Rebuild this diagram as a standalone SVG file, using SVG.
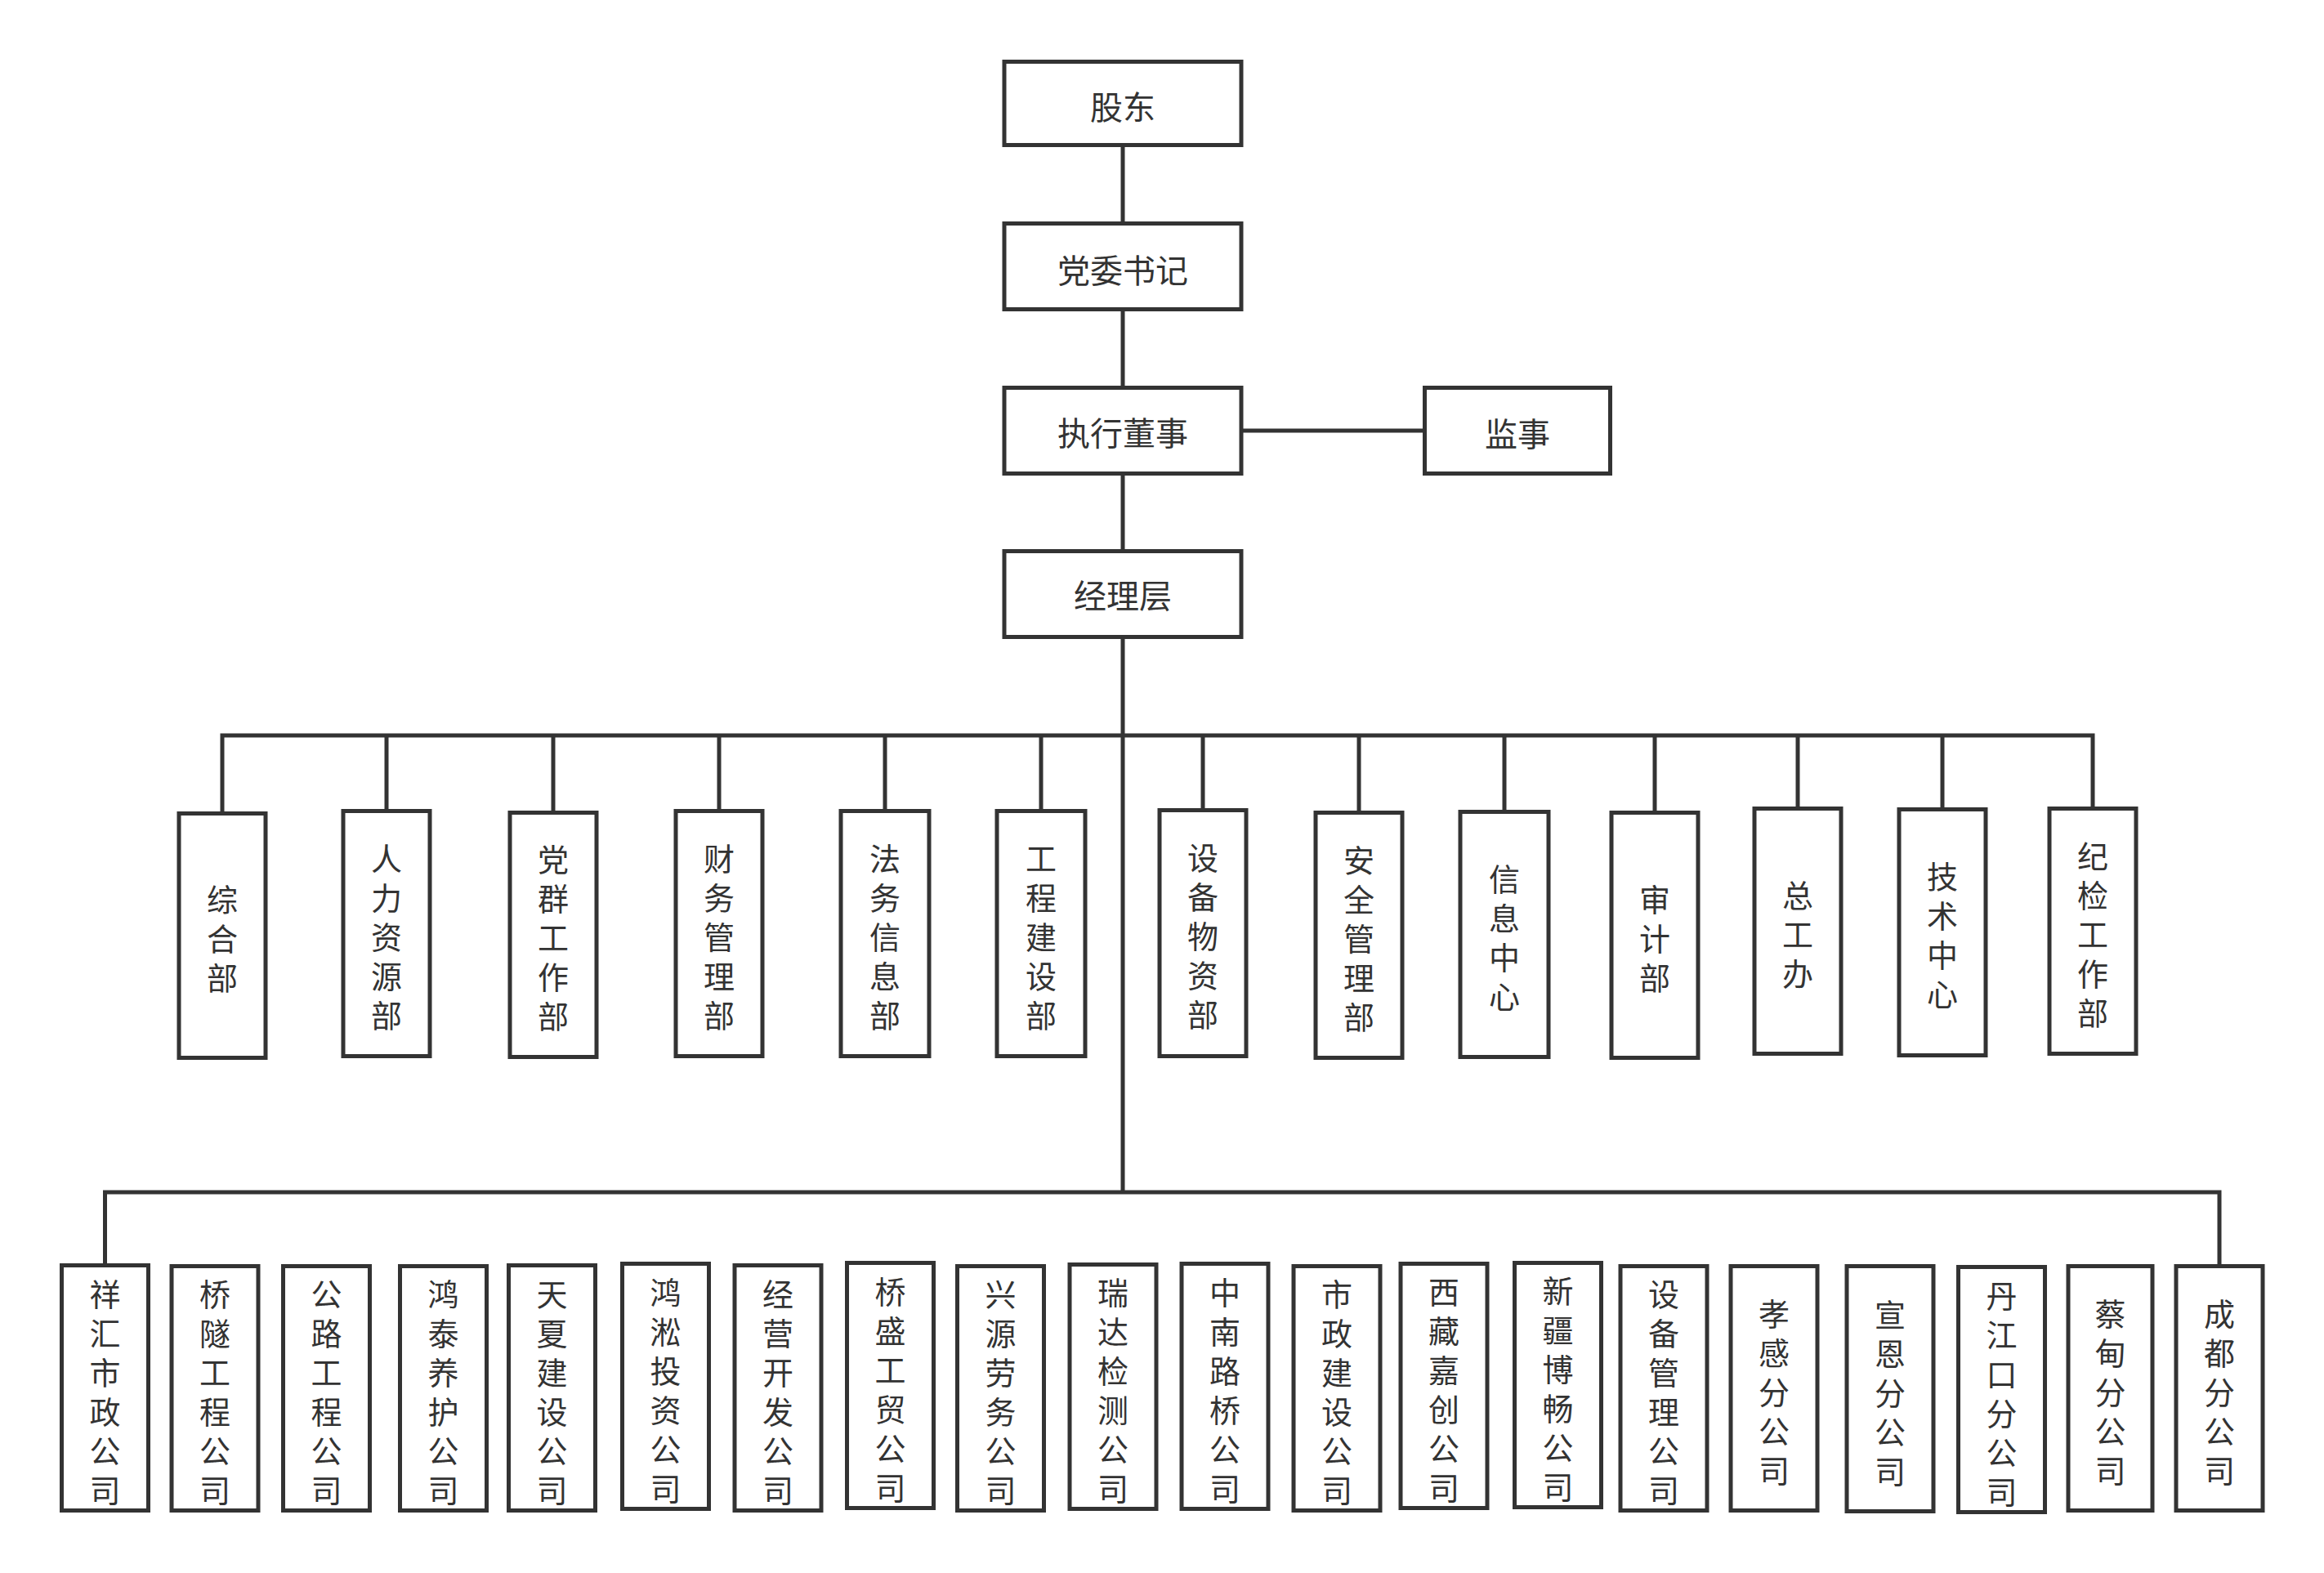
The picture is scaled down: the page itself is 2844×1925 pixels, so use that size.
<svg xmlns="http://www.w3.org/2000/svg" width="2844" height="1925" viewBox="0 0 2844 1925">
<style>
.bg{fill:#ffffff}
.box{fill:#ffffff;stroke:#333333;stroke-width:5}
.ln{fill:none;stroke:#333333;stroke-width:5}
.t{font-family:"Noto Sans CJK SC","Noto Sans",sans-serif;font-size:40px;fill:#333333;text-anchor:middle}
.v{font-family:"Noto Sans CJK SC","Noto Sans",sans-serif;font-size:38px;fill:#333333;text-anchor:middle;writing-mode:vertical-rl;text-orientation:upright;letter-spacing:10px}
</style>
<rect class="bg" x="0" y="0" width="2844" height="1925"/>
<g id="connectors">
<line class="ln" x1="1374" y1="177" x2="1374" y2="274"/>
<line class="ln" x1="1374" y1="378" x2="1374" y2="475"/>
<line class="ln" x1="1374" y1="579" x2="1374" y2="675"/>
<line class="ln" x1="1518" y1="527" x2="1744" y2="527"/>
<line class="ln" x1="1374" y1="779" x2="1374" y2="1459"/>
<polyline class="ln" points="272,996 272,900 2561,900 2561,990"/>
<line class="ln" x1="473" y1="900" x2="473" y2="993"/>
<line class="ln" x1="677" y1="900" x2="677" y2="995"/>
<line class="ln" x1="880" y1="900" x2="880" y2="993"/>
<line class="ln" x1="1083" y1="900" x2="1083" y2="993"/>
<line class="ln" x1="1274" y1="900" x2="1274" y2="993"/>
<line class="ln" x1="1472" y1="900" x2="1472" y2="992"/>
<line class="ln" x1="1663" y1="900" x2="1663" y2="995"/>
<line class="ln" x1="1841" y1="900" x2="1841" y2="994"/>
<line class="ln" x1="2025" y1="900" x2="2025" y2="995"/>
<line class="ln" x1="2200" y1="900" x2="2200" y2="990"/>
<line class="ln" x1="2377" y1="900" x2="2377" y2="991"/>
<polyline class="ln" points="128.5,1549 128.5,1459 2716,1459 2716,1550"/>
</g>
<g id="n-gudong"><rect class="box" x="1229" y="75.5" width="290" height="102"/><text class="t" x="1374" y="146">股东</text></g>
<g id="n-dangwei"><rect class="box" x="1229" y="273.5" width="290" height="105"/><text class="t" x="1374" y="346">党委书记</text></g>
<g id="n-zhixing"><rect class="box" x="1229" y="474.5" width="290" height="105"/><text class="t" x="1374" y="545">执行董事</text></g>
<g id="n-jianshi"><rect class="box" x="1743.5" y="474.5" width="227" height="105"/><text class="t" x="1857" y="546">监事</text></g>
<g id="n-jingli"><rect class="box" x="1229" y="674.5" width="290" height="105"/><text class="t" x="1374" y="744">经理层</text></g>

<g id="d-zonghe"><rect class="box" x="219" y="995.5" width="106" height="299"/><text class="v" x="272" y="1154">综合部</text></g>
<g id="d-renli"><rect class="box" x="420" y="992.5" width="106" height="300"/><text class="v" x="473" y="1151.5">人力资源部</text></g>
<g id="d-dangqun"><rect class="box" x="624" y="994.5" width="106" height="299"/><text class="v" x="677" y="1153">党群工作部</text></g>
<g id="d-caiwu"><rect class="box" x="827" y="992.5" width="106" height="300"/><text class="v" x="880" y="1151.5">财务管理部</text></g>
<g id="d-fawu"><rect class="box" x="1029" y="992.5" width="108" height="300"/><text class="v" x="1083" y="1151.5">法务信息部</text></g>
<g id="d-gongcheng"><rect class="box" x="1220" y="992.5" width="108" height="300"/><text class="v" x="1274" y="1151.5">工程建设部</text></g>
<g id="d-shebei"><rect class="box" x="1419" y="991.5" width="106" height="301"/><text class="v" x="1472" y="1151">设备物资部</text></g>
<g id="d-anquan"><rect class="box" x="1610" y="994.5" width="106" height="300"/><text class="v" x="1663" y="1153.5">安全管理部</text></g>
<g id="d-xinxi"><rect class="box" x="1787" y="993.5" width="108" height="300"/><text class="v" x="1841" y="1152.5">信息中心</text></g>
<g id="d-shenji"><rect class="box" x="1972" y="994.5" width="106" height="300"/><text class="v" x="2025" y="1153.5">审计部</text></g>
<g id="d-zonggong"><rect class="box" x="2147" y="989.5" width="106" height="300"/><text class="v" x="2200" y="1148.5">总工办</text></g>
<g id="d-jishu"><rect class="box" x="2324" y="990.5" width="106" height="301"/><text class="v" x="2377" y="1150">技术中心</text></g>
<g id="d-jijian"><rect class="box" x="2508" y="989.5" width="106" height="300"/><text class="v" x="2561" y="1148.5">纪检工作部</text></g>

<g id="c-xianghui"><rect class="box" x="75.5" y="1548.5" width="106" height="300"/><text class="v" x="128.5" y="1708.5">祥汇市政公司</text></g>
<g id="c-qiaosui"><rect class="box" x="210" y="1549.5" width="106" height="299"/><text class="v" x="263" y="1709">桥隧工程公司</text></g>
<g id="c-gonglu"><rect class="box" x="346.5" y="1549.5" width="106" height="299"/><text class="v" x="399.5" y="1709">公路工程公司</text></g>
<g id="c-hongtai"><rect class="box" x="489.5" y="1549.5" width="106" height="299"/><text class="v" x="542.5" y="1709">鸿泰养护公司</text></g>
<g id="c-tianxia"><rect class="box" x="622.5" y="1548.5" width="106" height="300"/><text class="v" x="675.5" y="1708.5">天夏建设公司</text></g>
<g id="c-hongsong"><rect class="box" x="761.5" y="1546.5" width="106" height="300"/><text class="v" x="814.5" y="1706.5">鸿淞投资公司</text></g>
<g id="c-jingying"><rect class="box" x="899" y="1548.5" width="106" height="300"/><text class="v" x="952" y="1708.5">经营开发公司</text></g>
<g id="c-qiaosheng"><rect class="box" x="1036.5" y="1545.5" width="106" height="300"/><text class="v" x="1089.5" y="1705.5">桥盛工贸公司</text></g>
<g id="c-xingyuan"><rect class="box" x="1171.5" y="1549.5" width="106" height="299"/><text class="v" x="1224.5" y="1709">兴源劳务公司</text></g>
<g id="c-ruida"><rect class="box" x="1309" y="1547.5" width="106" height="299"/><text class="v" x="1362" y="1707">瑞达检测公司</text></g>
<g id="c-zhongnan"><rect class="box" x="1446" y="1546.5" width="106" height="300"/><text class="v" x="1499" y="1706.5">中南路桥公司</text></g>
<g id="c-shizheng"><rect class="box" x="1583" y="1549.5" width="106" height="299"/><text class="v" x="1636" y="1709">市政建设公司</text></g>
<g id="c-xizang"><rect class="box" x="1714" y="1546.5" width="106" height="299"/><text class="v" x="1767" y="1706">西藏嘉创公司</text></g>
<g id="c-xinjiang"><rect class="box" x="1853.5" y="1545.5" width="106" height="299"/><text class="v" x="1906.5" y="1705">新疆博畅公司</text></g>
<g id="c-shebeiguanli"><rect class="box" x="1983" y="1549.5" width="106" height="299"/><text class="v" x="2036" y="1709">设备管理公司</text></g>
<g id="c-xiaogan"><rect class="box" x="2118" y="1549.5" width="106" height="299"/><text class="v" x="2171" y="1709">孝感分公司</text></g>
<g id="c-xuanen"><rect class="box" x="2260" y="1549.5" width="106" height="300"/><text class="v" x="2313" y="1709.5">宣恩分公司</text></g>
<g id="c-danjiangkou"><rect class="box" x="2396.5" y="1550.5" width="106" height="300"/><text class="v" x="2449.5" y="1710.5">丹江口分公司</text></g>
<g id="c-caidian"><rect class="box" x="2531" y="1549.5" width="103" height="299"/><text class="v" x="2582.5" y="1709">蔡甸分公司</text></g>
<g id="c-chengdu"><rect class="box" x="2663" y="1549.5" width="106" height="299"/><text class="v" x="2716" y="1709">成都分公司</text></g>
</svg>
